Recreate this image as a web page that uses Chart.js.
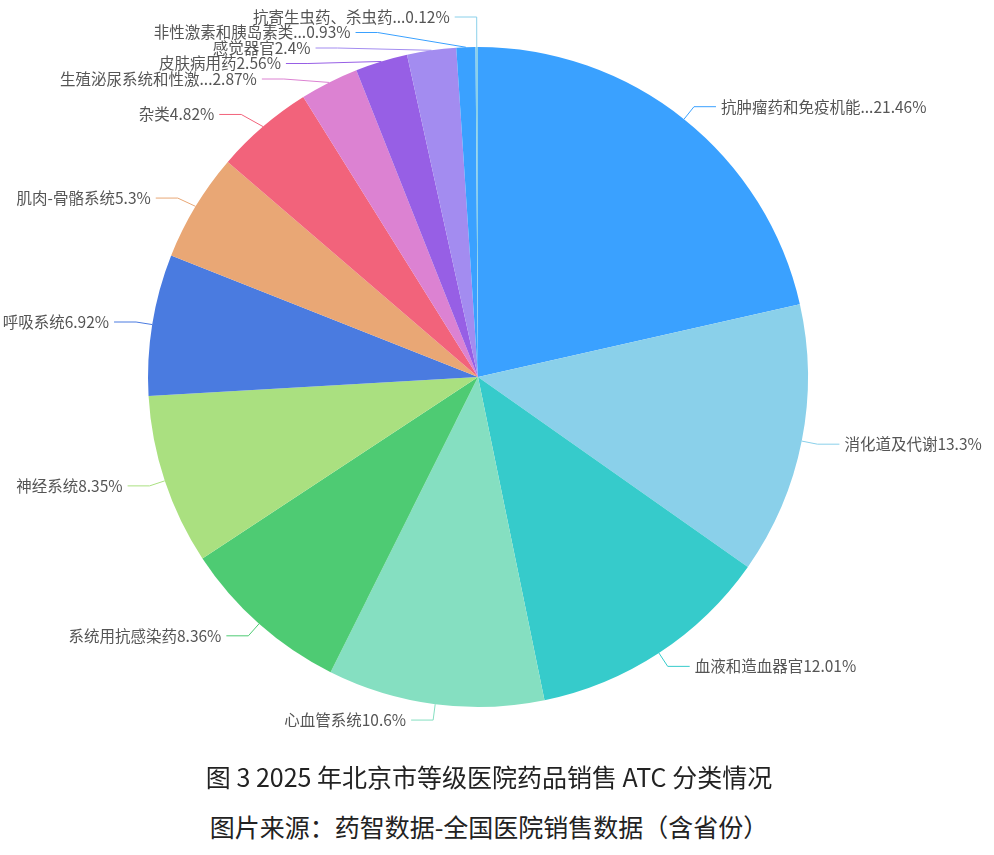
<!DOCTYPE html>
<html lang="zh-CN">
<head>
<meta charset="utf-8">
<title>2025 年北京市等级医院药品销售 ATC 分类情况</title>
<script src="https://cdn.jsdelivr.net/npm/chart.js@4/dist/chart.umd.min.js"></script>
<style>
    html, body { margin: 0; padding: 0; background: #fff; }
    body { width: 994px; height: 855px; position: relative; overflow: hidden; font-family: "Noto Sans CJK SC", "Noto Sans", sans-serif; }
    #chartBox { position: absolute; left: 0; top: 0; width: 994px; height: 760px; }
    .caption { position: absolute; left: 0; width: 978px; text-align: center; font-size: 25px; color: #222; line-height: 30px; }
    #caption1 { top: 761px; }
    #caption2 { top: 811px; }
</style>
</head>
<body>
<div id="chartBox"><canvas id="atcChart"></canvas></div>
<div class="caption" id="caption1">图 3 2025 年北京市等级医院药品销售 ATC 分类情况</div>
<div class="caption" id="caption2">图片来源：药智数据-全国医院销售数据（含省份）</div>

<script>
// ATC 分类（顺时针，从 12 点方向开始）
const atcNames = [
    '抗肿瘤药和免疫机能调节药',
    '消化道及代谢',
    '血液和造血器官',
    '心血管系统',
    '系统用抗感染药',
    '神经系统',
    '呼吸系统',
    '肌肉-骨骼系统',
    '杂类',
    '生殖泌尿系统和性激素',
    '皮肤病用药',
    '感觉器官',
    '非性激素和胰岛素类激素类系统用药',
    '抗寄生虫药、杀虫药和驱虫药'
];
// 销售占比 (%)
const atcShares = [21.46, 13.3, 12.01, 10.6, 8.36, 8.35, 6.92, 5.3, 4.82, 2.87, 2.56, 2.4, 0.93, 0.12];
// 调色板，超过 12 类时循环使用
const palette = [
    '#3AA1FF', '#8AD0EA', '#36CBCB', '#85DFC1', '#4ECB73', '#AAE080',
    '#4A7BE0', '#E9A775', '#F2637B', '#DC82D2', '#975FE5', '#A38CF0'
];

const NAME_MAX = 9;
function shortName(name) {
    return name.length > NAME_MAX ? name.slice(0, NAME_MAX) + '...' : name;
}

// 外部标签 + 引导线（两段折线），同侧标签重叠时上下错开并沿椭圆重新计算 x
const outerLabels = {
    id: 'outerLabels',
    afterDatasetsDraw(chart) {
        const ctx = chart.ctx;
        const arcs = chart.getDatasetMeta(0).data;
        if (!arcs.length) return;
        const LEN1 = 16, LEN2 = 22, GAP = 5, LINE_H = 15.5;
        const cx = arcs[0].x, cy = arcs[0].y, r = arcs[0].outerRadius;
        const yMin = chart.chartArea.top - 30;
        const yMax = chart.chartArea.bottom + 30;

        const items = arcs.map((arc, i) => {
            const mid = (arc.startAngle + arc.endAngle) / 2;
            const dx = Math.cos(mid), dy = Math.sin(mid);
            return {
                i: i,
                dir: dx < 0 ? -1 : 1,
                x0: cx + r * dx, y0: cy + r * dy,
                x1: cx + (r + LEN1) * dx, y1: cy + (r + LEN1) * dy,
                y: cy + (r + LEN1) * dy,
                ex: Math.abs((r + LEN1) * dx)
            };
        });

        [-1, 1].forEach(dir => {
            const side = items.filter(it => it.dir === dir).sort((a, b) => a.y1 - b.y1);
            if (side.length < 2) return;
            // 合并重叠的组，组内等距排列，中心取自然位置的平均
            let groups = side.map(it => ({ list: [it] }));
            const place = g => {
                const mean = g.list.reduce((s, it) => s + it.y1, 0) / g.list.length;
                let top = mean - (g.list.length - 1) / 2 * LINE_H;
                top = Math.max(top, yMin);
                top = Math.min(top, yMax - (g.list.length - 1) * LINE_H);
                g.top = top;
                g.bottom = top + (g.list.length - 1) * LINE_H;
            };
            groups.forEach(place);
            let merged = true;
            while (merged) {
                merged = false;
                for (let k = 0; k < groups.length - 1; k++) {
                    if (groups[k].bottom + LINE_H > groups[k + 1].top) {
                        groups[k].list = groups[k].list.concat(groups[k + 1].list);
                        groups.splice(k + 1, 1);
                        place(groups[k]);
                        merged = true;
                        break;
                    }
                }
            }
            let shifted = false;
            groups.forEach(g => g.list.forEach((it, n) => {
                const ny = g.top + n * LINE_H;
                if (Math.abs(ny - it.y1) > 0.5) shifted = true;
                it.y = ny;
            }));
            if (!shifted) return;

            // 上半、下半分别按最外侧标签确定椭圆
            const rA = r + LEN1;
            [side.filter(it => it.y < cy), side.filter(it => it.y >= cy)].forEach(semi => {
                if (!semi.length) return;
                let far = semi[0];
                semi.forEach(it => { if (Math.abs(it.y - cy) > Math.abs(far.y - cy)) far = it; });
                const fdy = Math.abs(far.y - cy);
                const fdx = Math.abs(far.x1 - cx);
                const rB = fdx < rA ? Math.sqrt(fdy * fdy / (1 - fdx * fdx / (rA * rA))) : rA;
                semi.forEach(it => {
                    const ddy = Math.abs(it.y - cy);
                    it.ex = Math.sqrt(Math.max(0, 1 - ddy * ddy / (rB * rB))) * rA;
                });
            });
        });

        ctx.save();
        ctx.font = '15.5px "Noto Sans CJK SC", "Noto Sans", sans-serif';
        ctx.textBaseline = 'middle';
        items.forEach(it => {
            const color = palette[it.i % palette.length];
            const ex = cx + it.dir * it.ex;
            const endX = ex + it.dir * LEN2;
            ctx.strokeStyle = color;
            ctx.lineWidth = 1;
            ctx.beginPath();
            ctx.moveTo(it.x0, it.y0);
            ctx.lineTo(ex, it.y);
            ctx.lineTo(endX, it.y);
            ctx.stroke();

            ctx.fillStyle = '#555';
            ctx.textAlign = it.dir < 0 ? 'right' : 'left';
            ctx.fillText(shortName(atcNames[it.i]) + atcShares[it.i] + '%', endX + it.dir * GAP, it.y);
        });
        ctx.restore();
    }
};

const atcChart = new Chart(document.getElementById('atcChart'), {
    type: 'pie',
    data: {
        labels: atcNames,
        datasets: [{
            data: atcShares,
            backgroundColor: atcShares.map((v, i) => palette[i % palette.length]),
            borderWidth: 0
        }]
    },
    options: {
        responsive: true,
        maintainAspectRatio: false,
        animation: false,
        layout: { padding: { top: 47, bottom: 53, left: 148, right: 186 } },
        plugins: {
            legend: { display: false },
            tooltip: { enabled: false }
        }
    },
    plugins: [outerLabels]
});
</script>
</body>
</html>
